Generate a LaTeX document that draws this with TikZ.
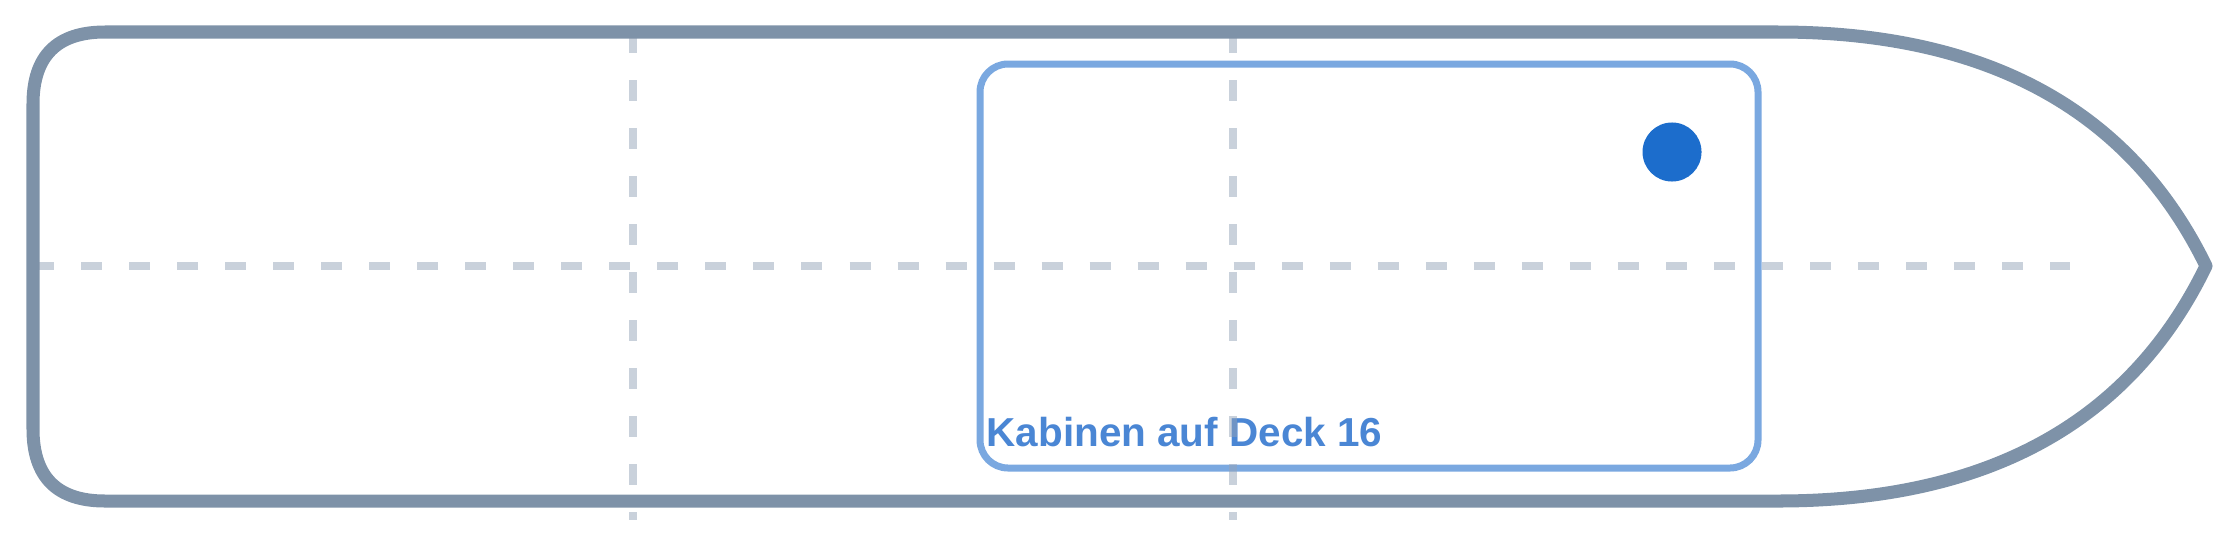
\documentclass[tikz,border=0pt]{standalone}
\usepackage{fontspec}
\usepackage{tikz}
\newfontfamily\deckfont{Liberation Sans}
\definecolor{hullgray}{RGB}{126,146,168}
\definecolor{gridgray}{RGB}{148,163,184}
\definecolor{cabinblue}{RGB}{122,168,224}
\definecolor{labelblue}{RGB}{74,134,212}
\definecolor{dotblue}{RGB}{28,109,204}

\begin{document}
\begin{tikzpicture}[x=0.01cm, y=-0.01cm,
    hull/.style={draw=hullgray, line width=0.13cm, line join=round},
    grid/.style={draw=gridgray, draw opacity=0.5, line width=0.08cm, dash pattern=on 0.21cm off 0.27cm},
    cabin/.style={draw=cabinblue, line width=0.07cm, rounded corners=0.28cm}]
    \useasboundingbox (0,0) rectangle (2240,533);
    % cabin block
    \draw[cabin] (980,64) rectangle (1758,468);
    \node[anchor=base west, inner sep=0pt, text=labelblue, font=\deckfont\bfseries\fontsize{11.5}{13}\selectfont] (cabinlabel) at (986,446) {Kabinen auf Deck 16};
    \node[circle, fill=dotblue, minimum size=0.59cm, inner sep=0pt] (cabindot) at (1672,152) {};
    % grid
    \draw[grid] (33,266) -- (2070,266);
    \draw[grid] (633,32) -- (633,520);
    \draw[grid] (1233,32) -- (1233,520);
    % hull
    \draw[hull] (105,32) .. controls (57,32) and (33,56) .. (33,104) -- (33,429)
        .. controls (33,477) and (57,501) .. (105,501) -- (1778,501)
        .. controls (1987,501) and (2130,423) .. (2206,266)
        .. controls (2130,110) and (1987,32) .. (1778,32) -- cycle;
\end{tikzpicture}
\end{document}
